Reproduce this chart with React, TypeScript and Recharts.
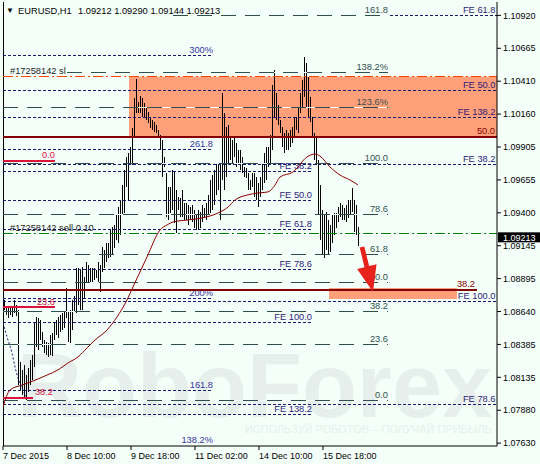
import React from 'react'
import { ComposedChart, Bar, Line, XAxis, YAxis, ReferenceLine, ReferenceArea } from 'recharts'

const FONT = '"Liberation Sans", Arial, sans-serif'
const BG = '#f5fffa'
const GREY = '#2f4f4f'
const NAVY = '#191970'
const BLUE_TXT = '#3434a0'
const FE_TXT = '#2e1a78'
const CRIMSON = '#dc143c'
const MAROON = '#850000'

// H1 bars, one per hour starting 7 Dec 2015
const HIGHS = [
  1.08808, 1.08731, 1.08677, 1.08677, 1.08669, 1.08677, 1.08731, 1.08692, 1.08654, 1.08254,
  1.08193, 1.08231, 1.08154, 1.08208, 1.08270, 1.08308, 1.08554, 1.08600, 1.08592, 1.08577,
  1.08485, 1.08423, 1.08408, 1.08400, 1.08462, 1.08477, 1.08554, 1.08577, 1.08600, 1.08615,
  1.08631, 1.08638, 1.08823, 1.08638, 1.08654, 1.08731, 1.08762, 1.08977, 1.08977, 1.08962,
  1.08985, 1.08908, 1.09023, 1.09000, 1.08977, 1.08977, 1.08977, 1.08962, 1.09023, 1.09000,
  1.09139, 1.09116, 1.09169, 1.09169, 1.09269, 1.09292, 1.09308, 1.09385, 1.09446, 1.09500,
  1.09615, 1.09731, 1.09831, 1.09862, 1.09908, 1.10054, 1.10284, 1.10430, 1.10254, 1.10300,
  1.10284, 1.10246, 1.10208, 1.10177, 1.10138, 1.10115, 1.10100, 1.10077, 1.10038, 1.10000,
  1.09961, 1.09831, 1.09708, 1.09600, 1.09600, 1.09731, 1.09715, 1.09577, 1.09523, 1.09515,
  1.09577, 1.09477, 1.09477, 1.09462, 1.09446, 1.09462, 1.09423, 1.09385, 1.09423, 1.09408,
  1.09462, 1.09438, 1.09477, 1.09538, 1.09654, 1.09692, 1.09731, 1.09785, 1.09785, 1.09785,
  1.10323, 1.10169, 1.10061, 1.10077, 1.09984, 1.09961, 1.09984, 1.09938, 1.09885, 1.09885,
  1.09831, 1.09754, 1.09746, 1.09708, 1.09654, 1.09708, 1.09708, 1.09677, 1.09631, 1.09677,
  1.09785, 1.09862, 1.09908, 1.09908, 1.10000, 1.10384, 1.10500, 1.10323, 1.10231, 1.10115,
  1.10061, 1.10015, 1.10038, 1.10015, 1.10038, 1.10061, 1.10138, 1.10138, 1.10215, 1.10323,
  1.10423, 1.10600, 1.10554, 1.10446, 1.10292, 1.10138, 1.10015, 1.09984, 1.09808, 1.09615,
  1.09423, 1.09385, 1.09408, 1.09346, 1.09308, 1.09385, 1.09400, 1.09400, 1.09446, 1.09477,
  1.09462, 1.09438, 1.09462, 1.09500, 1.09500, 1.09592, 1.09500, 1.09462, 1.09290,
]
const LOWS = [
  1.08654, 1.08654, 1.08615, 1.08592, 1.08615, 1.08600, 1.08631, 1.08608, 1.08077, 1.08039,
  1.08000, 1.07977, 1.07962, 1.08023, 1.08077, 1.08116, 1.08216, 1.08370, 1.08347, 1.08423,
  1.08370, 1.08323, 1.08308, 1.08293, 1.08308, 1.08300, 1.08423, 1.08462, 1.08439, 1.08485,
  1.08500, 1.08515, 1.08592, 1.08408, 1.08400, 1.08500, 1.08638, 1.08631, 1.08692, 1.08654,
  1.08654, 1.08746, 1.08862, 1.08869, 1.08869, 1.08869, 1.08885, 1.08900, 1.08869, 1.08792,
  1.08946, 1.08977, 1.09023, 1.09054, 1.09062, 1.09077, 1.09131, 1.09192, 1.09169, 1.09231,
  1.09385, 1.09400, 1.09600, 1.09500, 1.09769, 1.09769, 1.09984, 1.10169, 1.10169, 1.10169,
  1.10138, 1.10138, 1.10115, 1.10092, 1.10054, 1.10038, 1.10023, 1.10015, 1.09984, 1.09885,
  1.09677, 1.09754, 1.09369, 1.09346, 1.09400, 1.09423, 1.09323, 1.09246, 1.09423, 1.09369,
  1.09369, 1.09346, 1.09346, 1.09308, 1.09346, 1.09331, 1.09285, 1.09269, 1.09269, 1.09285,
  1.09331, 1.09362, 1.09346, 1.09385, 1.09400, 1.09423, 1.09462, 1.09538, 1.09577, 1.09346,
  1.09654, 1.09577, 1.09677, 1.09785, 1.09808, 1.09785, 1.09831, 1.09754, 1.09785, 1.09731,
  1.09708, 1.09677, 1.09669, 1.09577, 1.09577, 1.09600, 1.09523, 1.09500, 1.09446, 1.09523,
  1.09577, 1.09631, 1.09654, 1.09754, 1.09785, 1.09885, 1.10138, 1.10115, 1.10077, 1.10015,
  1.09908, 1.09862, 1.09885, 1.09885, 1.09908, 1.09938, 1.09984, 1.10038, 1.10015, 1.10169,
  1.10215, 1.10292, 1.10215, 1.10138, 1.10100, 1.09984, 1.09808, 1.09770, 1.09385, 1.09192,
  1.09077, 1.09054, 1.09116, 1.09077, 1.09100, 1.09169, 1.09231, 1.09285, 1.09331, 1.09369,
  1.09346, 1.09346, 1.09331, 1.09362, 1.09385, 1.09408, 1.09254, 1.09231, 1.09144,
]

// moving average, read at a few bar positions
const MA_BAR = [0, 3.5, 9.5, 15, 22, 27.5, 32.5, 37.5, 42, 46, 52, 57, 62, 65, 72, 78.5, 82, 85, 92, 99.5,
  107.5, 112.5, 116, 122, 127.5, 132.5, 136, 138.5, 145, 152, 156, 158.5, 163.5, 168.5, 173.5, 177.5]
const MA_VAL = [1.07908, 1.08039, 1.08077, 1.08108, 1.08154, 1.08193, 1.08247, 1.08293, 1.08362, 1.08423,
  1.08500, 1.08600, 1.08731, 1.08831, 1.09062, 1.09269, 1.09308, 1.09331, 1.09346, 1.09362,
  1.09400, 1.09446, 1.09500, 1.09538, 1.09554, 1.09562, 1.09615, 1.09677, 1.09715, 1.09831,
  1.09854, 1.09838, 1.09754, 1.09692, 1.09654, 1.09615]

// fibo arc on the left
const ARC_BAR = [0, 2.5, 4.5, 6, 7.5, 9.5, 12]
const ARC_VAL = [1.08554, 1.08423, 1.08323, 1.08216, 1.08131, 1.08054, 1.07977]

const Y_TICKS = [1.0763, 1.078831, 1.081362, 1.083892, 1.086423, 1.088954, 1.091485, 1.094015, 1.096546,
  1.099077, 1.101608, 1.104138, 1.106669, 1.1092]
const Y_LABELS = ['1.07630', '1.07880', '1.08135', '1.08385', '1.08640', '1.08895', '1.09145', '1.09400',
  '1.09655', '1.09905', '1.10160', '1.10410', '1.10665', '1.10920']
const X_TICKS = [0, 32, 64, 96, 128, 160]
const X_LABELS = ['7 Dec 2015', '8 Dec 10:00', '9 Dec 18:00', '11 Dec 02:00', '14 Dec 10:00', '15 Dec 18:00']

// fibo expansion levels (grey)
const FIBO_PRICE = [1.10918, 1.10477, 1.10213, 1.09782, 1.09392, 1.09082, 1.08867, 1.08646, 1.08385, 1.07957]
const FIBO_LABEL = ['161.8', '138.2%', '123.6%', '100.0', '78.6', '61.8', '50.0', '38.2', '23.6', '0.0']
const FIBO_FROM = [85, 32, 0, 0, 0, 0, 0, 0, 0, 0]
// fibo levels (blue, short)
const BLUE_PRICE = [1.1061, 1.0989, 1.08744, 1.08033, 1.0761]
const BLUE_LABEL = ['300%', '261.8', '200%', '161.8', '138.2%']
// FE levels, left set
const FEL_PRICE = [1.09723, 1.095, 1.09277, 1.08969, 1.0856, 1.07854]
const FEL_LABEL = ['FE 38.2', 'FE 50.0', 'FE 61.8', 'FE 78.6', 'FE 100.0', 'FE 138.2']
// FE levels, right set
const FER_PRICE = [1.10918, 1.10346, 1.10136, 1.09775, 1.0872, 1.07924]
const FER_LABEL = ['FE 61.8', 'FE 50.0', 'FE 138.2', 'FE 38.2', 'FE 100.0', 'FE 78.6']
const FER_FROM = [193.5, 0, 0, 0, 0, 0]
// retracement (crimson)
const RED_PRICE = [1.09802, 1.08675, 1.0798]
const RED_LABEL = ['0.0', '23.6', '38.2']
const RED_TO = [26, 26, 15]
// key levels (maroon)
const KEY_PRICE = [1.09987, 1.08808]
const KEY_LABEL = ['50.0', '38.2']
const KEY_TO = [247, 237]

const SL_PRICE = 1.10448
const SELL_PRICE = 1.09244
const BID = 1.09213
const ZONE_TOP = [1.10448, 1.08823]
const ZONE_BOTTOM = [1.09987, 1.08739]
const ZONE_FROM = [63, 163]
const ZONE_TO = [247, 227]
const ARROW = { fromBar: 179.5, fromPrice: 1.09139, toBar: 185, toPrice: 1.08793 }

const bars = HIGHS.map((h, i) => ({ k: i, range: [LOWS[i], h] }))
const maData = MA_BAR.map((k, i) => ({ k, ma: MA_VAL[i] }))
const arcData = ARC_BAR.map((k, i) => ({ k, v: ARC_VAL[i] }))

const tag = (text: string, color: string, shift = -1) => (props: any) => {
  const vb = props.viewBox
  return (
    <text x={vb.x + vb.width + shift} y={vb.y - 2.5} textAnchor="end" fill={color} fontSize={9.3} fontFamily={FONT}>
      {text}
    </text>
  )
}
const tagLeft = (text: string, color: string) => (props: any) => {
  const vb = props.viewBox
  return (
    <text x={vb.x + 7} y={vb.y - 2.5} textAnchor="start" fill={color} fontSize={9.3} fontFamily={FONT}>
      {text}
    </text>
  )
}
const priceBox = (props: any) => {
  const vb = props.viewBox
  const x = vb.x + vb.width + 1
  return (
    <g>
      <rect x={x} y={vb.y - 5} width={43} height={10} fill="#000" />
      <text x={x + 5} y={vb.y + 3.5} fill="#fff" fontSize={9} fontFamily={FONT}>{BID.toFixed(5)}</text>
    </g>
  )
}

const Arrow = (p: any) => {
  const { x1, y1, x2, y2 } = p
  const dx = x2 - x1, dy = y2 - y1
  const len = Math.hypot(dx, dy)
  const ux = dx / len, uy = dy / len, nx = -uy, ny = ux
  const head = 26, hw = 10, sw = 2.4
  const bx = x2 - ux * head, by = y2 - uy * head
  const pts = [
    [x1 + nx * sw, y1 + ny * sw], [bx + nx * sw, by + ny * sw], [bx + nx * hw, by + ny * hw], [x2, y2],
    [bx - nx * hw, by - ny * hw], [bx - nx * sw, by - ny * sw], [x1 - nx * sw, y1 - ny * sw],
  ]
  return <polygon points={pts.map(q => q.join(',')).join(' ')} fill="#e8231e" />
}

// crisp 1px hi-lo stick
const Stick = (p: any) => (
  <rect x={Math.round(p.x + p.width / 2 - 0.5)} y={p.y} width={1} height={Math.max(p.height, 1)}
    fill="#000" shapeRendering="crispEdges" />
)

const XTick = (props: any) => {
  const { x, y, payload } = props
  const i = X_TICKS.indexOf(payload.value)
  return (
    <text x={x} y={y + 7} textAnchor="start" fill="#000" fontSize={9} fontFamily={FONT}>{X_LABELS[i]}</text>
  )
}

const seg = (from: number, to: number, price: number) => [{ x: from, y: price }, { x: to, y: price }]

export default function App() {
  return (
    <div style={{ position: 'absolute', left: 0, top: 0, width: 540, height: 464, background: BG, overflow: 'hidden' }}>
      <svg width={540} height={464} style={{ position: 'absolute', left: 0, top: 0 }}>
        <text x={17} y={417} fontSize={90} fontWeight="bold" fill="#e6efeb" fontFamily={FONT}>RoboForex</text>
        <text x={492} y={433} textAnchor="end" fontSize={11} fill="#e6efeb" fontFamily={FONT}>
          ИСПОЛЬЗУЙ РОБОТОВ – ПОЛУЧАЙ ПРИБЫЛЬ
        </text>
      </svg>
      <div style={{ position: 'absolute', left: 0, top: 0 }}>
        <ComposedChart width={540} height={464} data={bars} margin={{ top: 2, right: 0, bottom: 0, left: 3 }}>
          <XAxis dataKey="k" type="number" domain={[0, 247]} allowDataOverflow ticks={X_TICKS} interval={0}
            tick={XTick} tickSize={4} height={18} stroke="#000" />
          <YAxis type="number" orientation="right" domain={[1.07608, 1.11023]} allowDataOverflow ticks={Y_TICKS}
            interval={0} width={43} tickSize={4} stroke="#000"
            tick={{ fontSize: 9, fill: '#000', fontFamily: FONT }}
            tickFormatter={(v: number) => Y_LABELS[Y_TICKS.indexOf(v)]} />

          {ZONE_TOP.map((t, i) => (
            <ReferenceArea key={'z' + i} x1={ZONE_FROM[i]} x2={ZONE_TO[i]} y1={ZONE_BOTTOM[i]} y2={t}
              fill="#ffa07a" fillOpacity={1} stroke="none" />
          ))}

          <ReferenceLine x={0} stroke="#000" shapeRendering="crispEdges" />

          {FIBO_PRICE.map((p, i) => (
            <ReferenceLine key={'fb' + i} segment={seg(FIBO_FROM[i], 192.5, p)} stroke={BG} strokeWidth={1}
              shapeRendering="crispEdges" />
          ))}
          {FIBO_PRICE.map((p, i) => (
            <ReferenceLine key={'f' + i} segment={seg(FIBO_FROM[i], 192.5, p)} stroke={GREY}
              strokeDasharray="15 9" shapeRendering="crispEdges" label={tag(FIBO_LABEL[i], GREY, 0)} />
          ))}
          {BLUE_PRICE.map((p, i) => (
            <ReferenceLine key={'b' + i} segment={seg(0, 105, p)} ifOverflow="visible"
              stroke={i === BLUE_PRICE.length - 1 ? 'none' : NAVY} strokeDasharray="3 2"
              shapeRendering="crispEdges" label={tag(BLUE_LABEL[i], BLUE_TXT, 0)} />
          ))}
          {FEL_PRICE.map((p, i) => (
            <ReferenceLine key={'fl' + i} segment={seg(0, 154.5, p)} stroke={NAVY} strokeDasharray="3 2"
              shapeRendering="crispEdges" label={tag(FEL_LABEL[i], FE_TXT, 0)} />
          ))}
          {FER_PRICE.map((p, i) => (
            <ReferenceLine key={'fr' + i} segment={seg(FER_FROM[i], 247, p)} stroke={NAVY} strokeDasharray="3 2"
              shapeRendering="crispEdges" label={tag(FER_LABEL[i], FE_TXT, -1.5)} />
          ))}
          {RED_PRICE.map((p, i) => (
            <ReferenceLine key={'r' + i} segment={seg(0, RED_TO[i], p)} stroke={CRIMSON} strokeWidth={2}
              shapeRendering="crispEdges" label={tag(RED_LABEL[i], CRIMSON, i === 2 ? 20 : 0)} />
          ))}
          {KEY_PRICE.map((p, i) => (
            <ReferenceLine key={'k' + i} segment={seg(0, KEY_TO[i], p)} stroke={MAROON} strokeWidth={2}
              shapeRendering="crispEdges" label={tag(KEY_LABEL[i], MAROON, -2)} />
          ))}
          <ReferenceLine segment={seg(0, 247, SL_PRICE)} stroke="#ff4500" strokeDasharray="10 3 2 3"
            shapeRendering="crispEdges" label={tagLeft('#17258142 sl', '#222')} />
          <ReferenceLine segment={seg(0, 247, SELL_PRICE)} stroke="#008000" strokeDasharray="10 3 2 3"
            shapeRendering="crispEdges" label={tagLeft('#17258142 sell 0.10', '#222')} />
          <ReferenceLine y={BID} stroke="none" label={priceBox} />

          <Bar dataKey="range" barSize={1} fill="#000" shape={Stick} isAnimationActive={false} />
          <Line data={maData} dataKey="ma" type="monotone" stroke="#8b0000" strokeWidth={1} dot={false}
            isAnimationActive={false} />
          <Line data={arcData} dataKey="v" type="monotone" stroke={NAVY} strokeDasharray="2 2" strokeWidth={1}
            dot={false} isAnimationActive={false} />
          <ReferenceLine
            segment={[{ x: ARROW.fromBar, y: ARROW.fromPrice }, { x: ARROW.toBar, y: ARROW.toPrice }]}
            shape={Arrow} />
        </ComposedChart>
      </div>
      <svg width={540} height={20} style={{ position: 'absolute', left: 0, top: 0, pointerEvents: 'none' }}>
        <text x={6} y={13} fontSize={8} fill="#000" fontFamily={FONT}>▼</text>
        <text x={18} y={14} fontSize={9.3} fill="#000" fontFamily={FONT}>EURUSD,H1</text>
        <text x={78} y={14} fontSize={9.3} fill="#000" fontFamily={FONT}>1.09212 1.09290 1.09144 1.09213</text>
      </svg>
    </div>
  )
}
